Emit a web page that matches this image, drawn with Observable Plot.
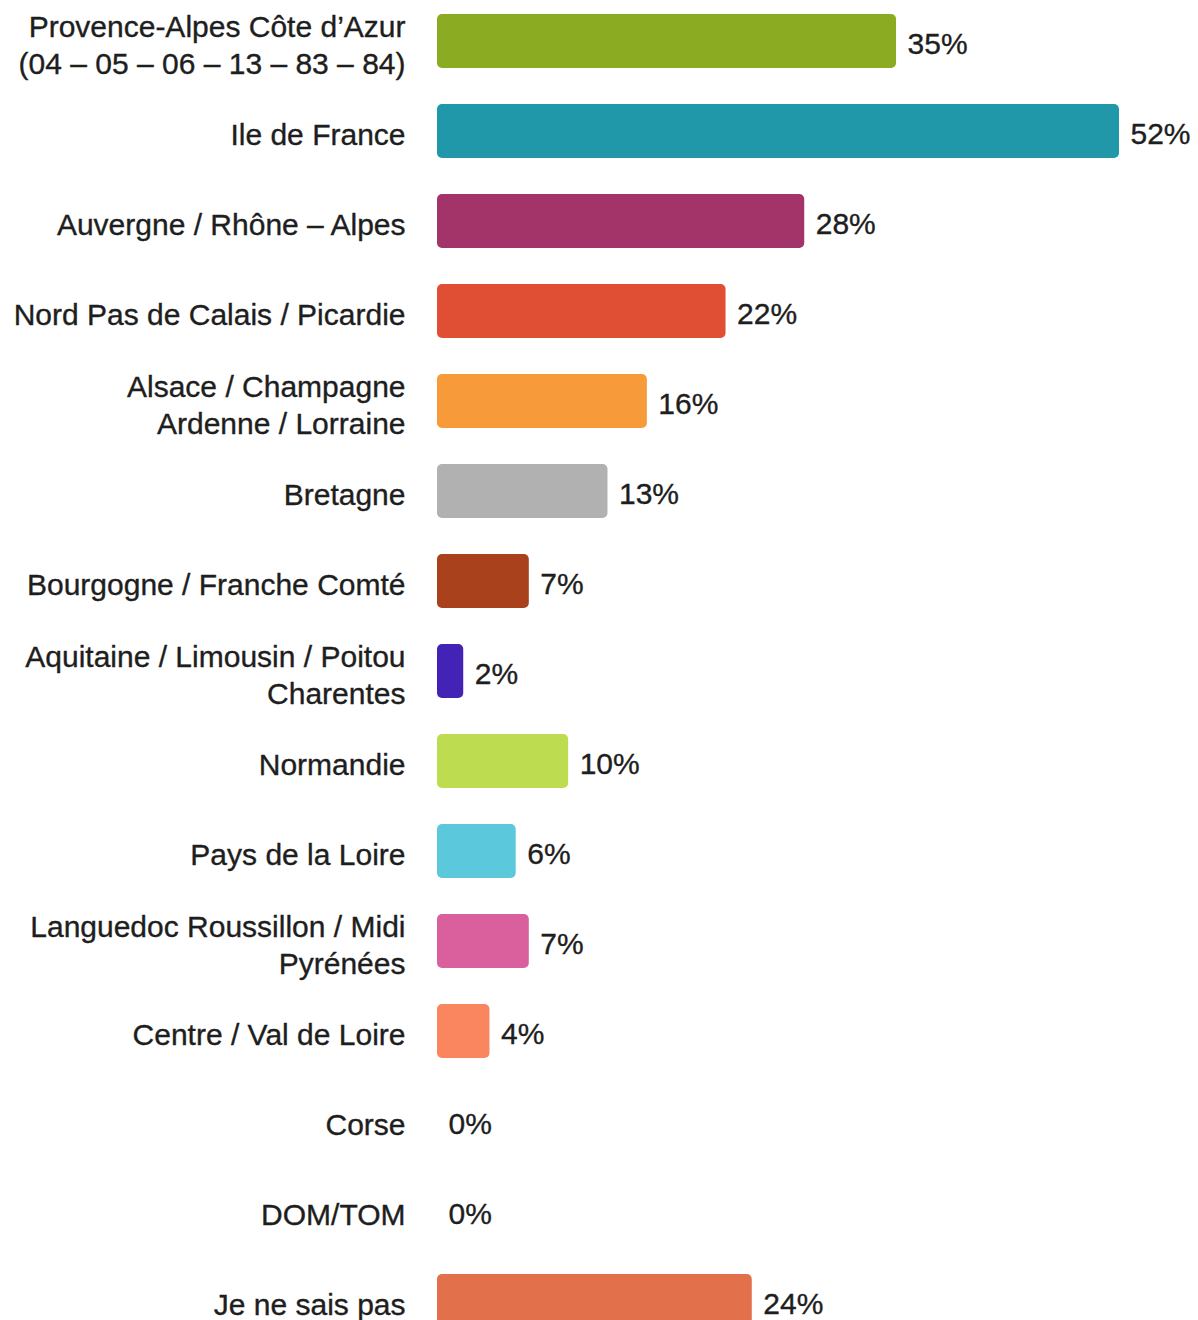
<!DOCTYPE html>
<html>
<head>
<meta charset="utf-8">
<script src="https://cdn.jsdelivr.net/npm/d3@7"></script>
<script src="https://cdn.jsdelivr.net/npm/@observablehq/plot@0.6"></script>
<style>
  html, body { margin: 0; padding: 0; background: #fff; overflow: hidden; }
  #chart svg { display: block; }
</style>
</head>
<body>
<div id="chart"></div>
<script>
const categories = [
  "Provence-Alpes Côte d’Azur\n(04 – 05 – 06 – 13 – 83 – 84)",
  "Ile de France",
  "Auvergne / Rhône – Alpes",
  "Nord Pas de Calais / Picardie",
  "Alsace / Champagne\nArdenne / Lorraine",
  "Bretagne",
  "Bourgogne / Franche Comté",
  "Aquitaine / Limousin / Poitou\nCharentes",
  "Normandie",
  "Pays de la Loire",
  "Languedoc Roussillon / Midi\nPyrénées",
  "Centre / Val de Loire",
  "Corse",
  "DOM/TOM",
  "Je ne sais pas"
];
const values = [35, 52, 28, 22, 16, 13, 7, 2, 10, 6, 7, 4, 0, 0, 24];
const colors = [
  "#8aab22", "#2098a9", "#a2346a", "#e04f34", "#f79a3a",
  "#b1b1b1", "#a9411c", "#4323b6", "#bddc50", "#5cc8dc",
  "#d9609c", "#f9865f", "#cccccc", "#cccccc", "#e2704a"
];

const data = categories.map((c, i) => ({category: c, value: values[i]}));

const chart = Plot.plot({
  width: 1198,
  height: 1320,
  margin: 0,
  style: {fontFamily: "'Liberation Sans', Arial, sans-serif", background: "#fff"},
  x: {domain: [0, 52], range: [437, 1119], axis: null},
  y: {domain: categories, range: [-5.07, 1347.07], paddingInner: 0.4, paddingOuter: 0.2, axis: null},
  color: {domain: categories, range: colors},
  marks: [
    Plot.barX(data.filter(d => d.value > 0), {
      x: "value", y: "category", fill: "category", rx: 5, clip: "frame"
    }),
    Plot.text(data, {
      x: 0, y: "category", text: "category", textAnchor: "end", dx: -32, dy: 2,
      fontSize: 30, lineHeight: 1.233, fill: "#1e1e1e", stroke: "#1e1e1e", strokeWidth: 0.35
    }),
    Plot.text(data, {
      x: "value", y: "category", text: d => d.value + "%", textAnchor: "start", dx: 11, dy: 3,
      fontSize: 30, fill: "#1e1e1e", stroke: "#1e1e1e", strokeWidth: 0.35
    })
  ]
});
document.getElementById("chart").appendChild(chart);
</script>
</body>
</html>
